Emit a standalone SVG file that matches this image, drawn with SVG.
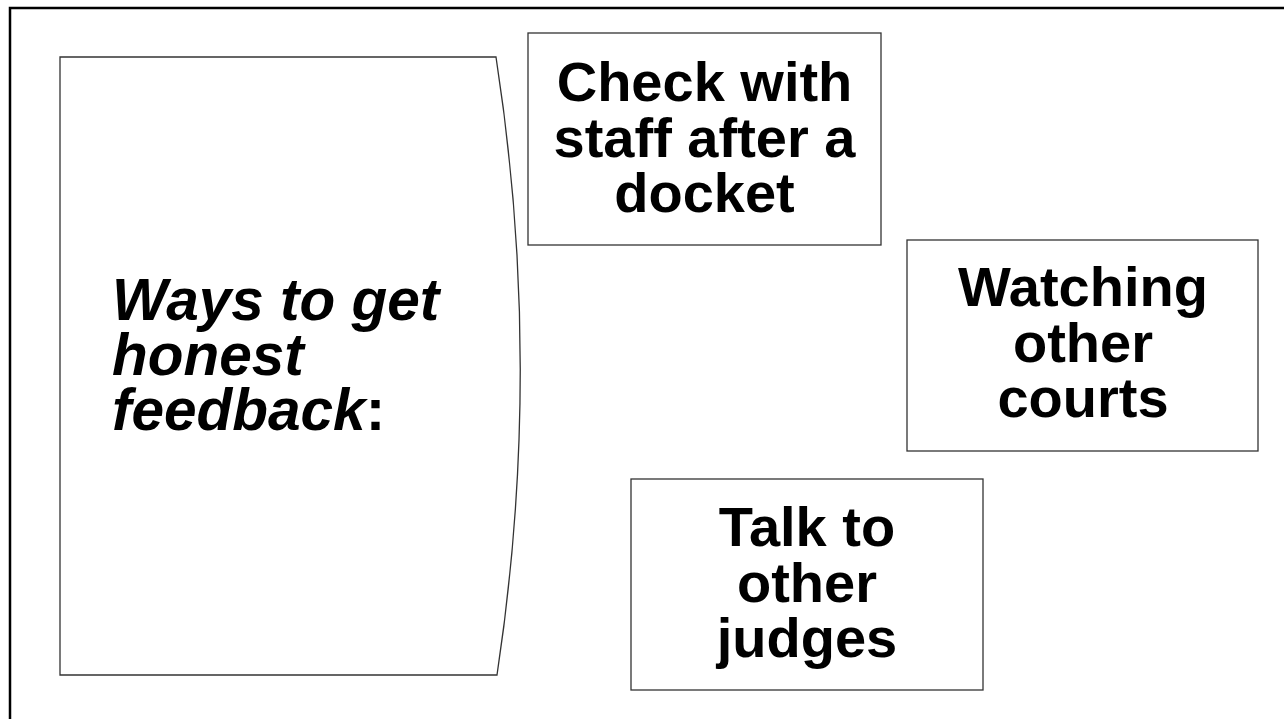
<svg xmlns="http://www.w3.org/2000/svg" width="1284" height="719" viewBox="0 0 1284 719">
<style>
.frame{fill:none;stroke:#000;stroke-width:2.5}
.box{fill:#fff;stroke:#333;stroke-width:1.3}
.t{font-family:"Liberation Sans",Arial,sans-serif;font-weight:bold;font-size:56px;fill:#000;text-anchor:middle}
.ti{font-family:"Liberation Sans",Arial,sans-serif;font-weight:bold;font-size:58.5px;fill:#000}
</style>
<rect width="1284" height="719" fill="#fff"/>
<rect class="frame" x="10" y="8" width="1300" height="740"/>
<g id="title">
<path class="box" d="M60,57 H496 Q544,366 497,675 H60 Z"/>
<text class="ti" x="112"><tspan x="112" y="320" font-style="italic">Ways to get</tspan><tspan x="112" y="375" font-style="italic">honest</tspan><tspan x="112" y="430"><tspan font-style="italic">feedback</tspan>:</tspan></text>
</g>
<g id="check-staff">
<rect class="box" x="528" y="33" width="353" height="212"/>
<text class="t"><tspan x="704.5" y="101">Check with</tspan><tspan x="704.5" y="157">staff after a</tspan><tspan x="704.5" y="212">docket</tspan></text>
</g>
<g id="watching-courts">
<rect class="box" x="907" y="240" width="351" height="211"/>
<text class="t"><tspan x="1083" y="306">Watching</tspan><tspan x="1083" y="362">other</tspan><tspan x="1083" y="417">courts</tspan></text>
</g>
<g id="talk-judges">
<rect class="box" x="631" y="479" width="352" height="211"/>
<text class="t"><tspan x="807" y="546">Talk to</tspan><tspan x="807" y="602">other</tspan><tspan x="807" y="657">judges</tspan></text>
</g>
<g id="connectors"></g>
</svg>
